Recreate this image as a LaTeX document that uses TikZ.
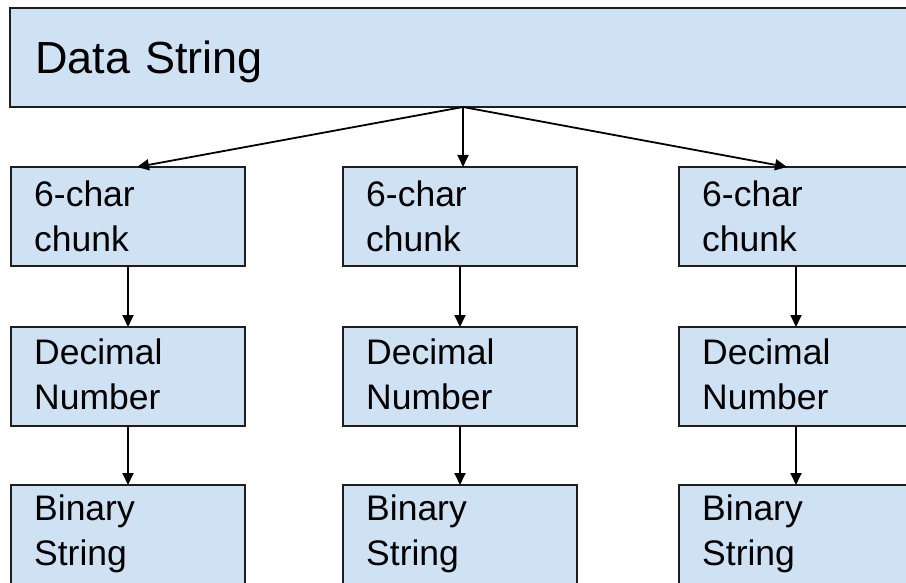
\documentclass[tikz,border=0pt]{standalone}
\usepackage{fontspec}
\setmainfont{Liberation Sans}
\usetikzlibrary{arrows.meta,calc}
\definecolor{boxfill}{HTML}{CFE2F3}
\definecolor{boxline}{HTML}{1E1E1E}
\begin{document}
\begin{tikzpicture}[x=1pt,y=-1pt,
  box/.style={draw=boxline, fill=boxfill, line width=2pt, rectangle,
    minimum width=234pt, minimum height=99pt, anchor=north west,
    inner sep=0pt, outer sep=0pt},
  lbl/.style={anchor=base west, inner sep=0pt, text width=200pt, align=left,
    font=\fontsize{35.5}{45}\selectfont},
  arr/.style={draw=black, line width=1.8pt, -{Triangle[length=12pt,width=11pt]}}]
\useasboundingbox (0,0) rectangle (906,583);
\clip (0,0) rectangle (906,583);
% top box
\node[box, minimum width=906pt] (ds) at (10,8) {};
\node[lbl, text width=500pt, font=\fontsize{45}{54}\selectfont] (tds) at ($(ds.north west)+(25,66)$) {Data String};
% columns
\node[box] (c1) at (11,167) {};
\node[box] (c2) at (343,167) {};
\node[box] (c3) at (679,167) {};
\node[box] (d1) at (11,327) {};
\node[box] (d2) at (343,327) {};
\node[box] (d3) at (679,327) {};
\node[box] (b1) at (11,485) {};
\node[box] (b2) at (343,485) {};
\node[box] (b3) at (679,485) {};
% labels
\foreach \n in {1,2,3}{
  \node[lbl] (tc\n) at ($(c\n.north west)+(23,40)$) {6-char\\chunk};
  \node[lbl] (td\n) at ($(d\n.north west)+(23,37)$) {Decimal\\Number};
  \node[lbl] (tb\n) at ($(b\n.north west)+(23,35)$) {Binary\\String};
}
% connectors
\coordinate (e1) at ($(c1.north)+(9,0)$);
\coordinate (e3) at ($(c3.north)+(-9,0)$);
\draw[arr] (ds.south) -- (e1);
\draw[arr] (ds.south) -- (ds.south |- c2.north);
\draw[arr] (ds.south) -- (e3);
\foreach \n in {1,2,3}{
  \draw[arr] (c\n.south) -- (d\n.north);
  \draw[arr] (d\n.south) -- (b\n.north);
}
\end{tikzpicture}
\end{document}
